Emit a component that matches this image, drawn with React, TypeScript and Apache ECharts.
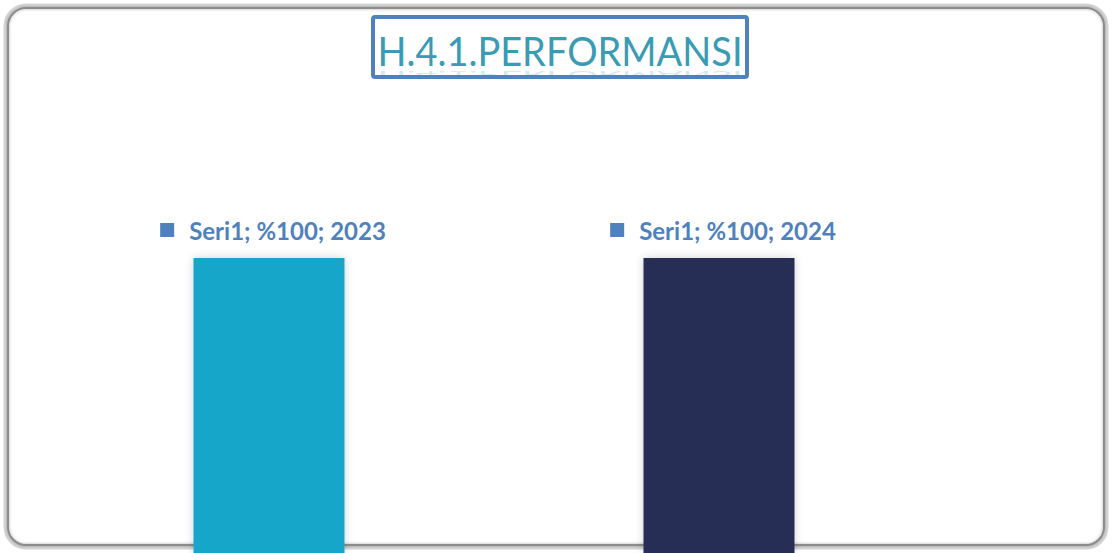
import React, { useEffect, useRef } from "react";
import * as echarts from "echarts";

const categories = ["2023", "2024"];
const seriesName = "Seri1";
const values = [100, 100];
const barColors = ["#14A6CA", "#262D56"];
const titleText = "H.4.1.PERFORMANSI";

export default function App() {
  const ref = useRef<HTMLDivElement>(null);
  useEffect(() => {
    if (!ref.current) return;
    const chart = echarts.init(ref.current, undefined, { renderer: "svg" });
    chart.setOption({
      animation: false,
      backgroundColor: "#ffffff",
      grid: { left: 44, top: 258, width: 900, height: 420 },
      xAxis: {
        type: "category",
        data: categories,
        show: false,
      },
      yAxis: { type: "value", min: 0, max: 100, show: false },
      series: [
        {
          name: seriesName,
          type: "bar",
          z: 10,
          barWidth: 151,
          data: values.map((v, i) => ({
            value: v,
            itemStyle: {
              color: barColors[i],
              shadowColor: "rgba(0,0,0,0.18)",
              shadowBlur: 8,
            },
          })),
          label: {
            show: true,
            position: "top",
            distance: 16,
            offset: [4, 0],
            formatter: (p: any) =>
              `{sq|}{t|${seriesName}; %${p.value}; ${p.name}}`,
            rich: {
              sq: {
                width: 14,
                height: 14,
                backgroundColor: "#4F81BD",
                padding: 0,
              },
              t: {
                fontFamily: "Lato",
                fontWeight: "bold",
                fontSize: 24,
                color: "#4F81BD",
                padding: [0, 0, 0, 15],
              },
            },
          },
        },
      ],
      graphic: [
        {
          type: "rect",
          shape: { x: 6, y: 6, width: 1100, height: 541, r: 20 },
          style: {
            fill: "none",
            stroke: "#d6d6d6",
            lineWidth: 5,
          },
          z: 0,
        },
        {
          type: "rect",
          shape: { x: 8, y: 8, width: 1096, height: 537, r: 18 },
          style: {
            fill: "none",
            stroke: "#8c8c8c",
            lineWidth: 2,
            shadowColor: "rgba(0,0,0,0.35)",
            shadowBlur: 3,
          },
          z: 1,
        },
        {
          type: "rect",
          shape: { x: 373, y: 17, width: 374, height: 60, r: 2 },
          style: { fill: "#ffffff", stroke: "none" },
          z: 49,
        },
        {
          type: "text",
          x: 560,
          y: 50,
          scaleY: 1.08,
          style: {
            text: titleText,
            fontFamily: "Lato",
            fontSize: 38,
            fontWeight: "normal",
            textAlign: "center",
            textVerticalAlign: "middle",
            fill: "#3A9BB4",
          },
          z: 52,
        },
        {
          type: "text",
          x: 560,
          y: 75,
          scaleY: -0.3,
          style: {
            text: titleText,
            fontFamily: "Lato",
            fontSize: 38,
            textAlign: "center",
            textVerticalAlign: "middle",
            fill: "rgba(92,184,206,0.3)",
          },
          z: 51,
        },
        {
          type: "rect",
          shape: { x: 373, y: 17, width: 374, height: 60, r: 2 },
          style: { fill: "none", stroke: "#4F81BD", lineWidth: 4 },
          z: 53,
        },
      ],
    });
    return () => chart.dispose();
  }, []);
  return (
    <div
      ref={ref}
      style={{ position: "fixed", left: 0, top: 0, width: 1112, height: 553 }}
    />
  );
}
